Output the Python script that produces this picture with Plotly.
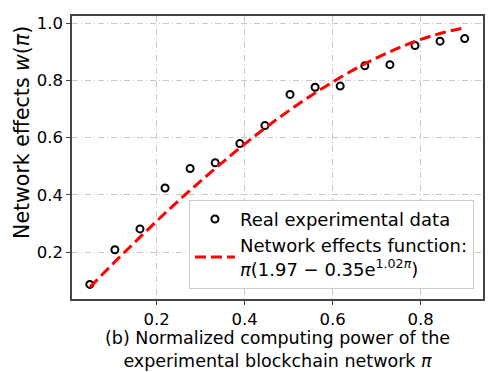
import plotly.graph_objects as go

# Data
x_data = [0.048, 0.105, 0.162, 0.219, 0.276, 0.333, 0.389, 0.446,
          0.503, 0.560, 0.617, 0.673, 0.730, 0.787, 0.844, 0.900]
y_data = [0.087, 0.208, 0.281, 0.424, 0.492, 0.512, 0.579, 0.642,
          0.751, 0.776, 0.780, 0.851, 0.855, 0.922, 0.937, 0.946]
# Fitted curve values
y_fit = [0.077, 0.166, 0.252, 0.336, 0.416, 0.492, 0.564, 0.633,
         0.697, 0.756, 0.810, 0.858, 0.900, 0.936, 0.964, 0.984]

x_ticks = [0.2, 0.4, 0.6, 0.8]
y_ticks = [0.2, 0.4, 0.6, 0.8, 1.0]

FONT = "DejaVu Sans"

fig = go.Figure()
fig.add_trace(go.Scatter(
    x=x_data, y=y_data, mode="markers",
    name="Real experimental data",
    marker=dict(symbol="circle-open", size=7, color="black",
                line=dict(width=2, color="black")),
))
fig.add_trace(go.Scatter(
    x=x_data, y=y_fit, mode="lines",
    name="Network effects function:<br><i>π</i>(1.97 − 0.35e<sup>1.02<i>π</i></sup>)",
    line=dict(color="#ff0000", width=3, dash="11px,5px", shape="spline"),
))

axis_common = dict(
    showline=True, linecolor="#444", linewidth=1.5, mirror=True,
    ticks="outside", ticklen=4, tickwidth=1, tickcolor="#444",
    showgrid=True, gridcolor="#c8c8c8", gridwidth=1, griddash="6px,3px,1px,3px",
    zeroline=False,
    tickfont=dict(family=FONT, size=16.5, color="black"),
)

# The page body has an 8px margin, so the figure is sized to fit the window
fig.update_layout(
    width=490, height=364,
    margin=dict(l=64, r=15, t=6, b=73),
    paper_bgcolor="white", plot_bgcolor="white",
    font=dict(family=FONT, color="black"),
    xaxis=dict(
        range=[0.0075, 0.9416], tickvals=x_ticks,
        ticktext=[f"{v:.1f}" for v in x_ticks],
        **axis_common,
    ),
    yaxis=dict(
        range=[0.036, 1.025], tickvals=y_ticks,
        ticktext=[f"{v:.1f}" for v in y_ticks],
        **axis_common,
    ),
    annotations=[
        dict(text="Network effects <i>w</i>(<i>π</i>)", textangle=-90,
             xref="paper", yref="paper", x=-0.122, y=0.59,
             xanchor="center", yanchor="middle", showarrow=False,
             font=dict(family=FONT, size=20.5, color="black")),
        dict(text="(b) Normalized computing power of the<br>experimental blockchain network <i>π</i>",
             xref="paper", yref="paper", x=0.5, y=-0.095,
             xanchor="center", yanchor="top", showarrow=False,
             font=dict(family=FONT, size=17.5, color="black")),
    ],
    legend=dict(
        x=0.978, y=0.036, xanchor="right", yanchor="bottom",
        bgcolor="rgba(255,255,255,0.85)", bordercolor="#cccccc", borderwidth=1,
        font=dict(family=FONT, size=18, color="black"),
        itemwidth=40, tracegroupgap=0,
    ),
    showlegend=True,
)

fig.write_html("out.html")
